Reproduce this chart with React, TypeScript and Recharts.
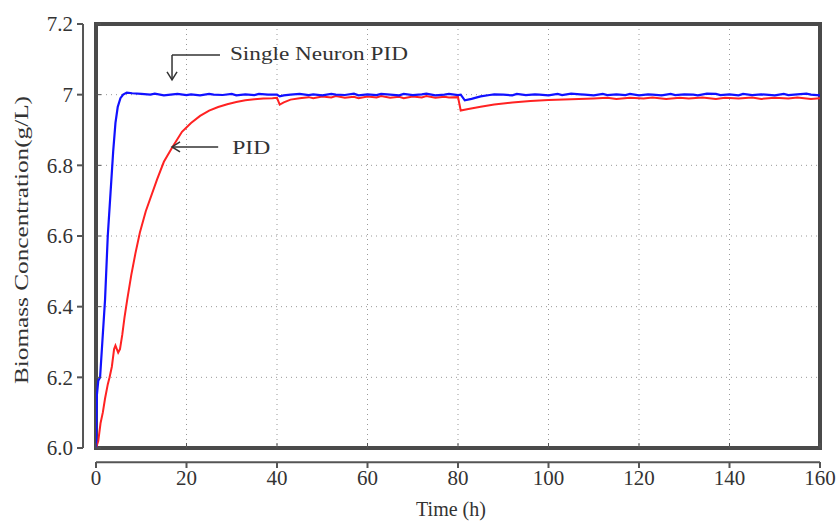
import { LineChart, Line, XAxis, YAxis, CartesianGrid, ReferenceLine, ReferenceArea, ReferenceDot } from 'recharts';

// Single Neuron PID response (time in h, biomass in g/L)
const snTime = [
  0, 0.2, 0.5, 0.9, 1.4, 2.0, 2.6, 3.2, 3.8, 4.3, 4.8, 5.4, 6.0, 6.8, 8, 10,
  12, 13, 15, 17, 18, 20, 21, 23, 25, 26, 28, 30, 31, 33, 35, 36, 38, 40, 40.6, 41.5, 43,
  45, 47, 48, 50, 52, 53, 55, 57, 58, 60, 62, 63, 65, 67, 68, 70, 72, 73, 75, 77, 78, 80,
  80.6, 81.5, 83, 85, 87, 88, 90, 92, 93, 95, 97, 98, 100, 102, 103, 105, 107, 108, 110,
  112, 113, 115, 117, 118, 120, 122, 123, 125, 127, 128, 130, 132, 133, 135, 137, 138, 140,
  142, 143, 145, 147, 148, 150, 152, 153, 155, 157, 158, 160,
];
const snValue = [
  6.0, 6.15, 6.19, 6.2, 6.3, 6.42, 6.6, 6.72, 6.84, 6.92, 6.965, 6.99, 7.0, 7.006, 7.004, 7.002,
  7.0, 7.003, 6.998, 7.001, 7.002, 6.999, 7.001, 6.998, 7.002, 7.0, 6.999, 7.002, 6.998, 7.001, 6.999, 7.002, 7.0, 7.0, 6.995, 6.998, 7.0,
  7.002, 6.999, 7.001, 6.998, 7.002, 7.0, 6.999, 7.003, 6.998, 7.001, 6.999, 7.002, 7.0, 6.998, 7.002, 6.999, 7.001, 7.003, 6.998, 7.0, 7.002, 6.999, 7.0,
  6.984, 6.988, 6.995, 6.999, 7.001, 7.0, 6.998, 7.002, 6.999, 7.001, 7.0, 6.998, 7.002, 6.999, 7.003, 7.001, 7.0, 6.998, 7.002,
  6.999, 7.001, 6.999, 7.002, 6.998, 7.001, 7.0, 6.998, 7.002, 6.999, 7.001, 7.0, 6.998, 7.003, 7.002, 6.999, 7.001, 6.998,
  7.002, 6.999, 7.001, 7.0, 6.998, 7.002, 6.999, 7.001, 7.003, 7.0, 6.998, 7.0,
];

// Conventional PID response
const pidTime = [
  0, 0.5, 1.0, 1.5, 2.0, 2.6, 3.0, 3.5, 4.0, 4.3, 4.9, 5.3, 5.8, 6.3, 6.9, 7.8,
  8.7, 9.7, 11, 13.5, 15, 16.8, 19, 21, 23, 25, 27, 29, 31, 33, 35, 37, 39, 40,
  40.6, 41.5, 43, 45, 47, 48, 50, 52, 53, 55, 57, 58, 60, 62, 63, 65, 67, 68, 70, 72, 73, 75,
  77, 78, 80, 80.6, 82, 85, 88, 92, 96, 100, 105, 110, 113, 115, 118, 121, 123, 126, 129, 131,
  134, 137, 139, 142, 145, 147, 150, 153, 155, 158, 160,
];
const pidValue = [
  6.0, 6.02, 6.07, 6.1, 6.14, 6.18, 6.2, 6.23, 6.28, 6.29, 6.27, 6.28, 6.32, 6.37, 6.42, 6.49,
  6.55, 6.61, 6.67, 6.76, 6.81, 6.85, 6.895, 6.92, 6.94, 6.955, 6.965, 6.973, 6.979, 6.984, 6.987, 6.989, 6.99, 6.991,
  6.972, 6.978, 6.986, 6.99, 6.993, 6.99, 6.995, 6.992, 6.996, 6.991, 6.994, 6.99, 6.995, 6.992, 6.996, 6.991, 6.994, 6.99, 6.995, 6.992, 6.996, 6.991,
  6.994, 6.992, 6.993, 6.955, 6.959, 6.966, 6.972, 6.978, 6.982, 6.985, 6.987, 6.989, 6.991, 6.988, 6.991, 6.989, 6.992, 6.988, 6.991, 6.989,
  6.992, 6.988, 6.991, 6.989, 6.992, 6.988, 6.991, 6.989, 6.992, 6.988, 6.99,
];

const xTicks = [0, 20, 40, 60, 80, 100, 120, 140, 160];
const yTicks = [6.0, 6.2, 6.4, 6.6, 6.8, 7.0, 7.2];
const yTickLabels = ['6.0', '6.2', '6.4', '6.6', '6.8', '7', '7.2'];

const snData = snTime.map((t, i) => ({ t, v: snValue[i] }));
const pidData = pidTime.map((t, i) => ({ t, v: pidValue[i] }));

const FONT = "'Liberation Serif', serif";
const AXIS = '#555';
const TEXT = '#333';

function YTick({ x, y, payload }: any) {
  const i = yTicks.indexOf(payload.value);
  return (
    <g>
      <line x1={x - 19} x2={x - 13} y1={y} y2={y} stroke={AXIS} strokeWidth={2} />
      <line x1={x} x2={x + 5} y1={y} y2={y} stroke={AXIS} strokeWidth={1} />
      <text x={x - 23} y={y} dy="0.35em" textAnchor="end" fontSize={21} fontFamily={FONT} fill={TEXT}>
        {yTickLabels[i]}
      </text>
    </g>
  );
}

function XTick({ x, y, payload }: any) {
  return (
    <g>
      <line x1={x} x2={x} y1={y + 14} y2={y + 20} stroke={AXIS} strokeWidth={2} />
      <line x1={x} x2={x} y1={y} y2={y - 5} stroke={AXIS} strokeWidth={1} />
      <text x={x} y={y + 30} dy="0.35em" textAnchor="middle" fontSize={21} fontFamily={FONT} fill={TEXT}>
        {payload.value}
      </text>
    </g>
  );
}

const label = (text: string, len: number) => (p: any) => (
  <text x={p.cx} y={p.cy} dy="0.35em" fontSize={19} fontFamily={FONT} fill={TEXT}
    textLength={len} lengthAdjust="spacingAndGlyphs">
    {text}
  </text>
);

const yLabel = (p: any) => {
  const { x, y, height } = p.viewBox;
  const cx = x - 15;
  const cy = y + height / 2 + 4;
  return (
    <text x={cx} y={cy} dy="0.35em" textAnchor="middle" transform={`rotate(-90 ${cx} ${cy})`}
      fontSize={19} fontFamily={FONT} fill={TEXT} textLength={288} lengthAdjust="spacingAndGlyphs">
      Biomass Concentration(g/L)
    </text>
  );
};

const arrowDown = (p: any) => (
  <path d={`M${p.cx - 5},${p.cy - 8} L${p.cx},${p.cy} L${p.cx + 5},${p.cy - 8}`} fill="none" stroke={TEXT} strokeWidth={1.5} />
);
const arrowLeft = (p: any) => (
  <path d={`M${p.cx + 8},${p.cy - 5} L${p.cx},${p.cy} L${p.cx + 8},${p.cy + 5}`} fill="none" stroke={TEXT} strokeWidth={1.5} />
);

export default function App() {
  return (
    <div style={{ position: 'absolute', left: 0, top: 0, width: 839, height: 522, background: '#fff' }}>
      <LineChart width={839} height={522} margin={{ top: 24, right: 19, left: 36, bottom: 24 }}>
        <CartesianGrid stroke="#999" strokeDasharray="1 4" />
        <XAxis
          dataKey="t"
          type="number"
          domain={[0, 160]}
          ticks={xTicks}
          allowDataOverflow
          axisLine={false}
          tickLine={false}
          tickSize={0}
          tickMargin={0}
          height={50}
          tick={<XTick />}
          label={{ value: 'Time (h)', position: 'insideBottom', offset: -18, dx: -7, fontSize: 20, fontFamily: FONT, fill: TEXT }}
        />
        <YAxis
          type="number"
          domain={[6, 7.2]}
          ticks={yTicks}
          allowDataOverflow
          axisLine={false}
          tickLine={false}
          tickSize={0}
          tickMargin={0}
          width={60}
          tick={<YTick />}
          label={{ content: yLabel }}
        />
        <Line data={pidData} dataKey="v" type="linear" stroke="#ff2222" strokeWidth={2} dot={false} isAnimationActive={false} />
        <Line data={snData} dataKey="v" type="linear" stroke="#1111ff" strokeWidth={2.2} dot={false} isAnimationActive={false} />
        <ReferenceArea x1={0} x2={160} y1={6} y2={7.2} fill="none" stroke="#4a4a4a" strokeWidth={4} ifOverflow="visible" />
        <ReferenceLine segment={[{ x: -2.87, y: 6 }, { x: -2.87, y: 7.2 }]} stroke={AXIS} strokeWidth={2} ifOverflow="visible" />
        <ReferenceLine segment={[{ x: 0, y: 5.96 }, { x: 160, y: 5.96 }]} stroke={AXIS} strokeWidth={2} ifOverflow="visible" />
        <ReferenceLine segment={[{ x: 16.8, y: 7.112 }, { x: 27.4, y: 7.112 }]} stroke={TEXT} strokeWidth={1.5} />
        <ReferenceLine segment={[{ x: 16.8, y: 7.112 }, { x: 16.8, y: 7.042 }]} stroke={TEXT} strokeWidth={1.5} />
        <ReferenceDot x={16.8} y={7.042} shape={arrowDown} />
        <ReferenceDot x={29.6} y={7.118} shape={label('Single Neuron PID', 178)} />
        <ReferenceLine segment={[{ x: 16.8, y: 6.852 }, { x: 27.0, y: 6.852 }]} stroke={TEXT} strokeWidth={1.5} />
        <ReferenceDot x={16.8} y={6.852} shape={arrowLeft} />
        <ReferenceDot x={30.1} y={6.852} shape={label('PID', 38)} />
      </LineChart>
    </div>
  );
}
